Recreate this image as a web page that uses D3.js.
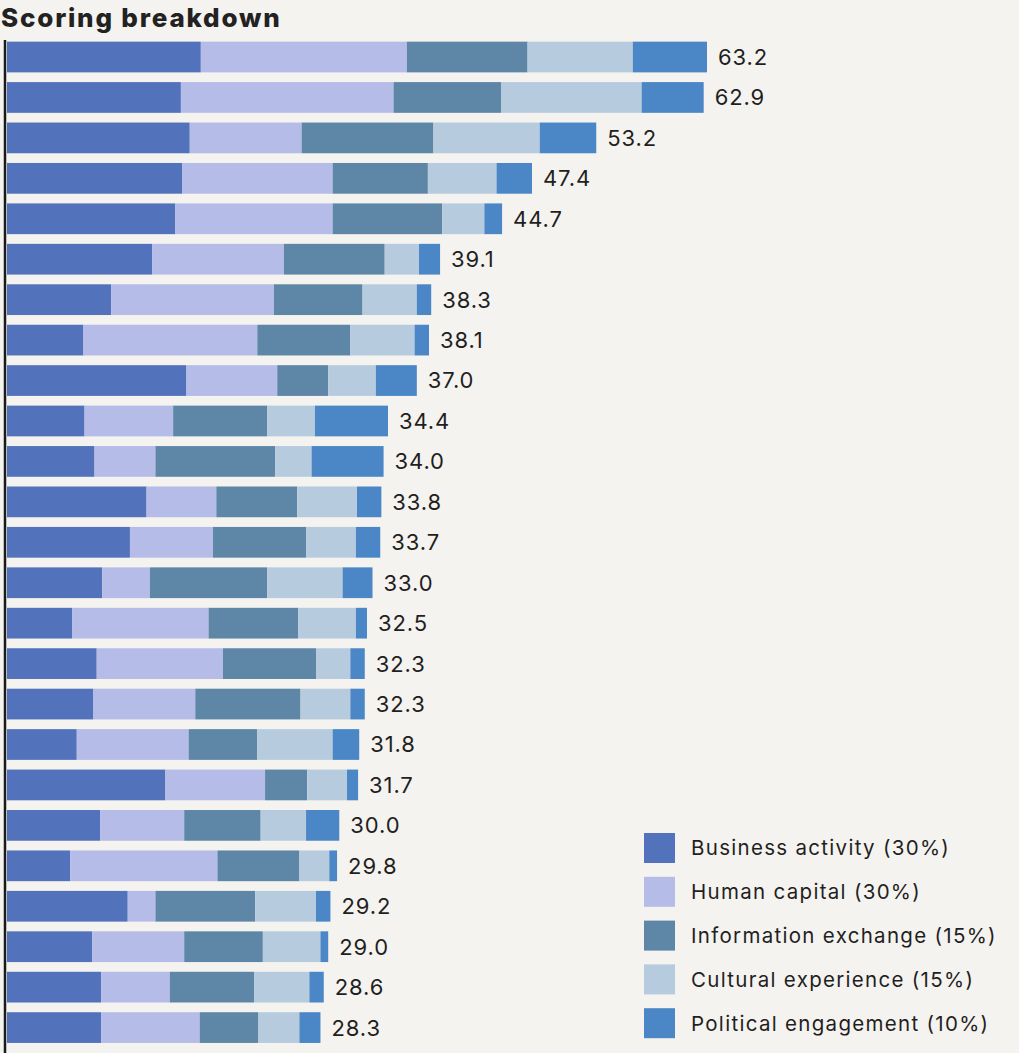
<!DOCTYPE html>
<html>
<head>
<meta charset="utf-8">
<script src="https://cdn.jsdelivr.net/npm/d3@7"></script>
<style>
  html, body { margin: 0; padding: 0; background: #f5f3ef; }
  svg { display: block; }
  text { font-family: "Inter", "Roboto", sans-serif; fill: #1f1f1f; }
</style>
</head>
<body>
<svg id="chart" width="1019" height="1053"></svg>
<script>
// Component scores per entry, top to bottom
const totals    = [63.2, 62.9, 53.2, 47.4, 44.7, 39.1, 38.3, 38.1, 37.0, 34.4, 34.0, 33.8, 33.7, 33.0, 32.5, 32.3, 32.3, 31.8, 31.7, 30.0, 29.8, 29.2, 29.0, 28.6, 28.3];
const business  = [17.5, 15.7, 16.5, 15.8, 15.2, 13.1,  9.4,  6.9, 16.2,  7.0,  7.9, 12.6, 11.1,  8.6,  5.9,  8.1,  7.8,  6.3, 14.3,  8.4,  5.7, 10.9,  7.7,  8.5,  8.5];
const human     = [18.6, 19.2, 10.1, 13.6, 14.2, 11.9, 14.7, 15.7,  8.2,  8.0,  5.5,  6.3,  7.5,  4.3, 12.3, 11.4,  9.2, 10.1,  9.0,  7.6, 13.3,  2.5,  8.3,  6.2,  8.9];
const info      = [10.9,  9.7, 11.9,  8.6,  9.9,  9.1,  8.0,  8.4,  4.6,  8.5, 10.8,  7.3,  8.4, 10.6,  8.1,  8.4,  9.5,  6.2,  3.8,  6.9,  7.4,  9.0,  7.1,  7.6,  5.3];
const cultural  = [ 9.5, 12.7,  9.6,  6.2,  3.8,  3.1,  4.9,  5.8,  4.3,  4.3,  3.3,  5.4,  4.5,  6.8,  5.2,  3.1,  4.5,  6.8,  3.6,  4.1,  2.7,  5.5,  5.2,  5.0,  3.7];
const political = [ 6.7,  5.6,  5.1,  3.2,  1.6,  1.9,  1.3,  1.3,  3.7,  6.6,  6.5,  2.2,  2.2,  2.7,  1.0,  1.3,  1.3,  2.4,  1.0,  3.0,  0.7,  1.3,  0.7,  1.3,  1.9];

const seriesKeys   = ["business", "human", "info", "cultural", "political"];
const seriesLabels = ["Business activity (30%)", "Human capital (30%)", "Information exchange (15%)", "Cultural experience (15%)", "Political engagement (10%)"];
const seriesColors = ["#5273bb", "#b5bce7", "#5e87a7", "#b7cbdf", "#4b86c6"];

const rows = totals.map((t, i) => ({
  id: i, total: t,
  business: business[i], human: human[i], info: info[i],
  cultural: cultural[i], political: political[i]
}));

const svg = d3.select("#chart");

const x = d3.scaleLinear().domain([0, 63.2]).range([7, 707]);
const y = d3.scaleBand()
  .domain(rows.map(d => d.id))
  .range([36.8, 1047.8])
  .paddingInner(0.24)
  .paddingOuter(0.12);
const color = d3.scaleOrdinal().domain(seriesKeys).range(seriesColors);

const stacked = d3.stack().keys(seriesKeys)(rows);

// Title
svg.append("text")
  .attr("x", 1)
  .attr("y", 27)
  .style("font-size", "26px")
  .style("font-weight", 800)
  .style("letter-spacing", "1.8px")
  .style("fill", "#222")
  .text("Scoring breakdown");

// Stacked bars
svg.append("g")
  .selectAll("g")
  .data(stacked)
  .join("g")
    .attr("fill", d => color(d.key))
  .selectAll("rect")
  .data(d => d)
  .join("rect")
    .attr("x", d => x(d[0]))
    .attr("y", d => y(d.data.id))
    .attr("width", d => x(d[1]) - x(d[0]))
    .attr("height", y.bandwidth());

// Baseline axis
svg.append("g")
  .attr("transform", "translate(5,0)")
  .call(d3.axisLeft(y).tickSize(0).tickFormat(""))
  .call(g => g.select(".domain")
    .attr("d", "M0,40V1053")
    .attr("stroke", "#1a1a1a")
    .attr("stroke-width", 2.5));

// Total labels
svg.append("g")
  .selectAll("text")
  .data(rows)
  .join("text")
    .attr("x", d => x(d.total) + 11)
    .attr("y", d => y(d.id) + y.bandwidth() / 2)
    .attr("dy", "0.36em")
    .style("font-size", "22px")
    .style("letter-spacing", "0.9px")
    .text(d => d3.format(".1f")(d.total));

// Legend
const legend = svg.append("g")
  .selectAll("g")
  .data(seriesKeys)
  .join("g")
    .attr("transform", (d, i) => `translate(644,${833 + i * 43.8})`);

legend.append("rect")
  .attr("width", 31)
  .attr("height", 30)
  .attr("fill", d => color(d));

legend.append("text")
  .attr("x", 47)
  .attr("y", 15)
  .attr("dy", "0.36em")
  .style("font-size", "20.5px")
  .style("letter-spacing", "1.3px")
  .text((d, i) => seriesLabels[i]);
</script>
</body>
</html>
